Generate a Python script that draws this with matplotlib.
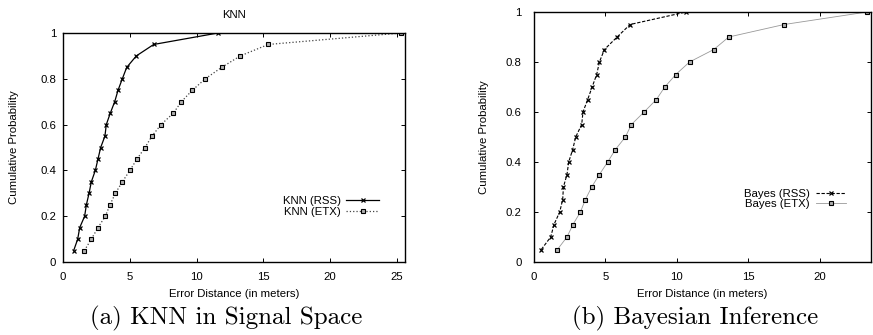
import matplotlib
matplotlib.use("Agg")
import matplotlib.pyplot as plt
import numpy as np

plt.rcParams['font.family'] = ['Liberation Sans', 'DejaVu Sans']

prob = [0.05, 0.10, 0.15, 0.20, 0.25, 0.30, 0.35, 0.40, 0.45, 0.50,
        0.55, 0.60, 0.65, 0.70, 0.75, 0.80, 0.85, 0.90, 0.95, 1.00]

knn_rss = [0.80, 1.10, 1.25, 1.62, 1.75, 1.95, 2.12, 2.42, 2.62, 2.82,
           3.14, 3.24, 3.54, 3.87, 4.12, 4.44, 4.77, 5.49, 6.79, 11.60]
knn_etx = [1.60, 2.12, 2.62, 3.17, 3.52, 3.92, 4.44, 5.01, 5.54, 6.14,
           6.66, 7.34, 8.26, 8.86, 9.68, 10.65, 11.88, 13.27, 15.37, 25.30]

bayes_rss = [0.51, 1.17, 1.40, 1.80, 2.01, 2.06, 2.31, 2.43, 2.71, 2.92,
             3.34, 3.43, 3.76, 4.07, 4.39, 4.58, 4.93, 5.82, 6.73, 10.65]
bayes_etx = [1.64, 2.31, 2.73, 3.25, 3.60, 4.04, 4.58, 5.16, 5.70, 6.40,
             6.82, 7.71, 8.57, 9.16, 9.93, 10.89, 12.59, 13.64, 17.52, 23.32]

W, H = 873, 335
fig = plt.figure(figsize=(W / 100, H / 100), dpi=100)

def ax_at(x0, y0, x1, y1):
    return fig.add_axes([x0 / W, 1 - y1 / H, (x1 - x0) / W, (y1 - y0) / H])

ax1 = ax_at(63, 33, 405, 262)
ax2 = ax_at(534, 12, 871, 262)

fs = 8.2
sq = dict(marker='s', markersize=3.2, markerfacecolor='#b0b0b0',
          markeredgecolor='black', markeredgewidth=0.8)
xm = dict(marker='x', markersize=3.2, markeredgewidth=0.9, color='black')

ax1.plot(knn_rss, prob, linestyle='-', linewidth=0.9, label='KNN (RSS)', **xm)
ax1.plot(knn_etx, prob, linestyle=':', linewidth=0.9, color='#444444',
         label='KNN (ETX)', **sq)
ax1.set_xlim(0, 25.6)
ax1.set_xticks([0, 5, 10, 15, 20, 25])
ax1.set_title('KNN', fontsize=fs, pad=11)

ax2.plot(bayes_rss, prob, linestyle=(0, (3, 1.5)), linewidth=0.8,
         label='Bayes (RSS)', **xm)
ax2.plot(bayes_etx, prob, linestyle='-', linewidth=0.6, color='#999999',
         label='Bayes (ETX)', **sq)
ax2.set_xlim(0, 23.6)
ax2.set_xticks([0, 5, 10, 15, 20])

for ax, ypad, ylp in ((ax1, 5, 15), (ax2, 9, 12)):
    ax.set_ylim(0, 1)
    ax.set_yticks([0, 0.2, 0.4, 0.6, 0.8, 1])
    ax.set_yticklabels(['0', '0.2', '0.4', '0.6', '0.8', '1'])
    ax.tick_params(direction='in', top=True, right=True, length=3,
                   width=0.7, labelsize=fs)
    ax.tick_params(axis='x', pad=7)
    ax.tick_params(axis='y', pad=ypad)
    for s in ax.spines.values():
        s.set_linewidth(1.0)
    ax.set_xlabel('Error Distance (in meters)', fontsize=fs, labelpad=5)
    ax.set_ylabel('Cumulative Probability', fontsize=fs, labelpad=ylp)

leg1 = ax1.legend(loc='lower right', bbox_to_anchor=(0.942, 0.17),
                  frameon=False, markerfirst=False, fontsize=fs,
                  handlelength=2.9, handletextpad=0.5, labelspacing=0.1,
                  borderpad=0)
leg2 = ax2.legend(loc='lower right', bbox_to_anchor=(0.944, 0.19),
                  frameon=False, markerfirst=False, fontsize=fs,
                  handlelength=2.7, handletextpad=0.5, labelspacing=0.0,
                  borderpad=0)
for leg in (leg1, leg2):
    for t in leg.get_texts():
        t.set_horizontalalignment('right')

fig.text(226 / W, 1 - 318 / H, '(a) KNN in Signal Space', family='cmr10',
         fontsize=18, ha='center', va='center')
fig.text(695 / W, 1 - 318 / H, '(b) Bayesian Inference', family='cmr10',
         fontsize=18, ha='center', va='center')

fig.savefig('out.png', dpi=100)
